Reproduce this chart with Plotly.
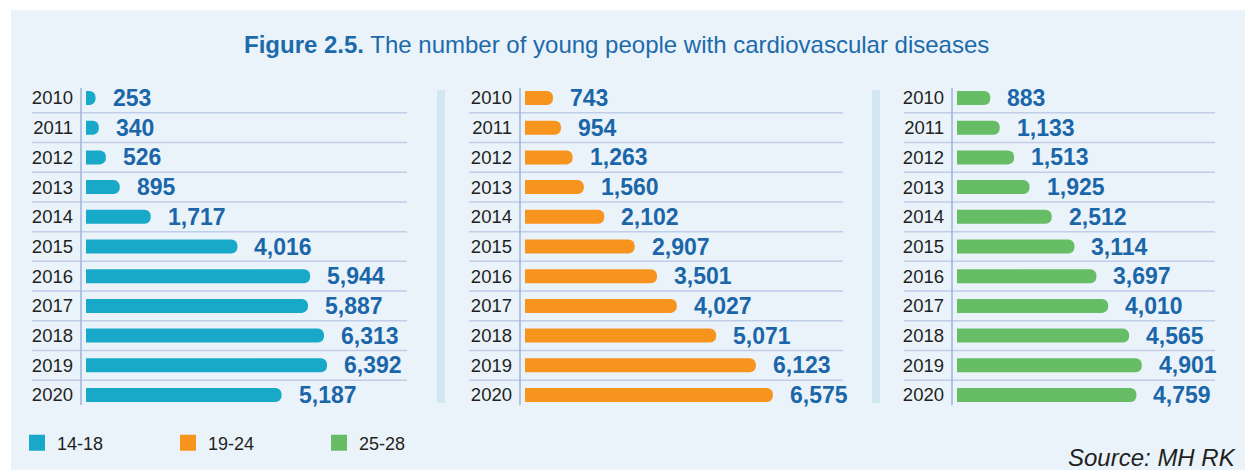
import plotly.graph_objects as go

W, H = 1245, 470

years = [str(y) for y in range(2010, 2021)]
age_groups = ["14-18", "19-24", "25-28"]
cases_14_18 = [253, 340, 526, 895, 1717, 4016, 5944, 5887, 6313, 6392, 5187]
cases_19_24 = [743, 954, 1263, 1560, 2102, 2907, 3501, 4027, 5071, 6123, 6575]
cases_25_28 = [883, 1133, 1513, 1925, 2512, 3114, 3697, 4010, 4565, 4901, 4759]
series = [cases_14_18, cases_19_24, cases_25_28]

colors = ["#17A9C7", "#F7941E", "#66BD66"]
VALUE_COLOR = "#1B66A8"
TEXT_COLOR = "#231F20"
FONT = "Liberation Sans, Arial, sans-serif"

# panel geometry (pixels)
panels = [
    dict(axis=81, right=407, grid_left=32),
    dict(axis=520, right=843, grid_left=469),
    dict(axis=952, right=1215, grid_left=904),
]
K = 0.0377   # px per case
OFF = 5      # gap between axis line and bar start, px
TOP, BOT = 83.15, 409.85

fig = go.Figure()
shapes = []
annotations = []
layout = {}

# background panel
shapes.append(dict(type="rect", xref="paper", yref="paper", x0=11 / W, x1=1, y0=0, y1=1 - 10 / H,
                   fillcolor="#EAF3FA", line=dict(width=0), layer="below"))
# separators
for sx in (437, 872):
    shapes.append(dict(type="rect", xref="paper", yref="paper", x0=sx / W, x1=(sx + 8) / W,
                       y0=1 - 403 / H, y1=1 - 90 / H, fillcolor="#D3E7F3",
                       line=dict(width=0), layer="below"))

idx = list(range(len(years)))
for i, (p, vals, col) in enumerate(zip(panels, series, colors)):
    sfx = "" if i == 0 else str(i + 1)
    xn, yn = "x" + sfx, "y" + sfx
    layout["xaxis" + sfx] = dict(
        domain=[p["axis"] / W, p["right"] / W],
        range=[-OFF / K, (p["right"] - p["axis"] - OFF) / K],
        visible=False, fixedrange=True, anchor=yn,
    )
    layout["yaxis" + sfx] = dict(
        domain=[1 - BOT / H, 1 - TOP / H], range=[10.5, -0.5], anchor=xn,
        tickvals=idx, ticktext=years, showgrid=False, zeroline=False, showline=False,
        ticks="", ticklabelstandoff=7,
        tickfont=dict(family=FONT, size=18.5, color=TEXT_COLOR), fixedrange=True,
    )
    fig.add_trace(go.Bar(
        x=vals, y=idx, orientation="h", width=0.47,
        marker=dict(color=col, cornerradius=7, line=dict(width=0)),
        xaxis=xn, yaxis=yn, showlegend=False, hoverinfo="skip",
    ))
    # axis line
    shapes.append(dict(type="line", xref=xn + " domain", yref=yn + " domain",
                       x0=0, x1=0, y0=0.015, y1=0.985,
                       line=dict(color="#9FB3D9", width=1.5)))
    # row separators
    for k in range(len(years) - 1):
        shapes.append(dict(type="line", xref="paper", yref=yn,
                           x0=p["grid_left"] / W, x1=p["right"] / W, y0=k + 0.5, y1=k + 0.5,
                           line=dict(color="#BFCDE8", width=1.5), layer="below"))
    for j, v in enumerate(vals):
        annotations.append(dict(
            x=v, y=j, xref=xn, yref=yn, text=f"<b>{v:,}</b>", showarrow=False,
            xanchor="left", yanchor="middle", xshift=15,
            font=dict(family=FONT, size=23, color=VALUE_COLOR),
        ))

# legend proxies
for name, col in zip(age_groups, colors):
    fig.add_trace(go.Scatter(x=[None], y=[None], mode="markers", name=name,
                             marker=dict(symbol="square", size=16, color=col),
                             xaxis="x", yaxis="y", hoverinfo="skip"))

annotations.append(dict(
    x=616.5 / W, y=1 - 44 / H, xref="paper", yref="paper", showarrow=False,
    xanchor="center", yanchor="middle",
    text="<b>Figure 2.5.</b> The number of young people with cardiovascular diseases",
    font=dict(family=FONT, size=24, color="#1D6AAB"),
))
annotations.append(dict(
    x=1238 / W, y=1 - 457 / H, xref="paper", yref="paper", showarrow=False,
    xanchor="right", yanchor="middle", text="<i>Source: MH RK</i>",
    font=dict(family=FONT, size=24, color=TEXT_COLOR),
))

fig.update_layout(
    width=W, height=H, margin=dict(l=0, r=0, t=0, b=0),
    paper_bgcolor="white", plot_bgcolor="rgba(0,0,0,0)",
    shapes=shapes, annotations=annotations, hovermode=False,
    legend=dict(orientation="h", x=17 / W, y=1 - 443 / H, xanchor="left", yanchor="middle",
                entrywidth=106, bgcolor="rgba(0,0,0,0)",
                font=dict(family=FONT, size=18, color=TEXT_COLOR)),
    **layout,
)

fig.write_html("out.html", config={"displayModeBar": False},
               post_script="document.body.style.margin='0';")
